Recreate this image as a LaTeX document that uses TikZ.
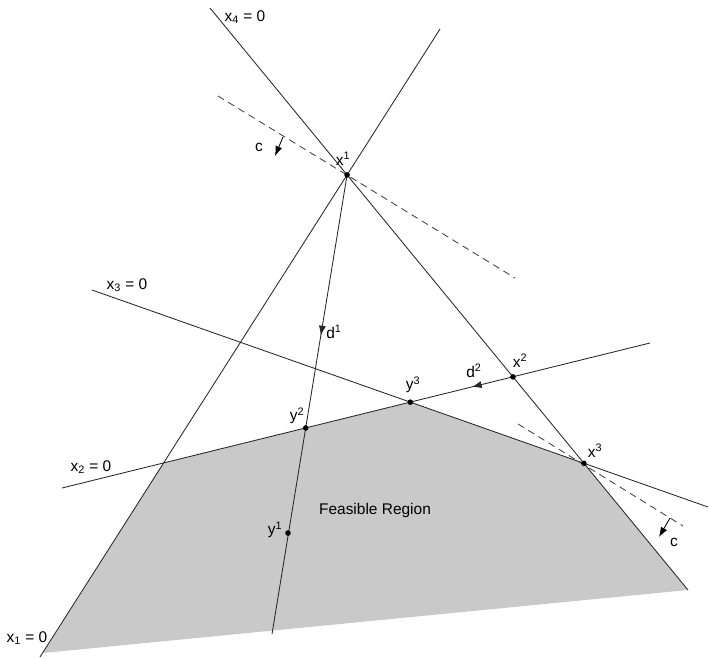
\documentclass[tikz,border=0pt]{standalone}
\usepackage{fontspec}
\setmainfont{Liberation Sans}
\usetikzlibrary{arrows.meta, decorations.markings}
\tikzset{
  cons/.style={line width=0.6pt, draw=black!85},
  level/.style={line width=0.6pt, draw=black!75, dash pattern=on 5pt off 3.5pt},
  pt/.style={circle, fill=black, inner sep=1.4pt},
  lbl/.style={font=\fontsize{11}{13}\selectfont, inner sep=1pt},
  region/.style={fill=gray!42, draw=none},
  arrow/.style={-{Latex[length=7pt, width=5pt]}, line width=0.6pt}
}
\begin{document}
\begin{tikzpicture}[x=0.025cm, y=-0.025cm]
\useasboundingbox (0,0) rectangle (710,658);

%% Constraint line ends
\coordinate (l1a) at (40,657);  \coordinate (l1b) at (440,29);
\coordinate (l2a) at (62,488);  \coordinate (l2b) at (650,343);
\coordinate (l3a) at (92,290);  \coordinate (l3b) at (708,507);
\coordinate (l4a) at (210,8);   \coordinate (l4b) at (688,590);
\coordinate (dend) at (272,634);
\coordinate (base) at (43,653);

%% Vertices
\coordinate (x1) at (intersection of l1a--l1b and l4a--l4b);
\coordinate (x3) at (intersection of l3a--l3b and l4a--l4b);
\coordinate (y3) at (intersection of l2a--l2b and l3a--l3b);
\coordinate (c12) at (intersection of l1a--l1b and l2a--l2b);
\coordinate (x2) at (intersection of l2a--l2b and l4a--l4b);
\coordinate (y2) at (intersection of l2a--l2b and x1--dend);

%% Feasible region
\fill[region] (c12) -- (y3) -- (x3) -- (l4b) -- (base) -- cycle;

%% Constraints
\draw[cons] (l1a) -- (l1b);
\draw[cons, postaction={decorate}, decoration={markings,
  mark=at position 0.697 with {\arrowreversed{Latex[length=7pt, width=5pt]}}}]
  (l2a) -- (l2b);
\draw[cons] (l3a) -- (l3b);
\draw[cons] (l4a) -- (l4b);

%% Direction d1
\draw[cons, postaction={decorate}, decoration={markings,
  mark=at position 0.35 with {\arrow{Latex[length=7pt, width=5pt]}}}]
  (x1) -- (dend);

%% Objective level lines
\coordinate (ua) at (218,96);  \coordinate (ub) at (515,278);
\coordinate (la) at (518,424); \coordinate (lb) at (683,526);
\draw[level] (ua) -- (ub);
\draw[level] (la) -- (lb);
\coordinate (cus) at (283,137); \coordinate (cue) at (275,156);
\coordinate (cls) at (670,518); \coordinate (cle) at (659,537);
\draw[arrow] (cus) -- (cue);
\draw[arrow] (cls) -- (cle);

%% Points
\node[pt] (px1) at (x1) {};
\node[pt] (px2) at (x2) {};
\node[pt] (px3) at (x3) {};
\node[pt] (py2) at (y2) {};
\node[pt] (py3) at (y3) {};
\node[pt] (py1) at (288,533) {};

%% Labels
\node[lbl] (t4) at (245,17) {x\textsubscript{4} = 0};
\node[lbl] (t3) at (127,285) {x\textsubscript{3} = 0};
\node[lbl] (t2) at (91,467) {x\textsubscript{2} = 0};
\node[lbl] (t1) at (27,638) {x\textsubscript{1} = 0};
\node[lbl] (tx1) at (343,159) {x\textsuperscript{1}};
\node[lbl] (tx2) at (520,361) {x\textsuperscript{2}};
\node[lbl] (tx3) at (595,451) {x\textsuperscript{3}};
\node[lbl] (ty1) at (275,530) {y\textsuperscript{1}};
\node[lbl] (ty2) at (297,416) {y\textsuperscript{2}};
\node[lbl] (ty3) at (413,385) {y\textsuperscript{3}};
\node[lbl] (td1) at (334,332) {d\textsuperscript{1}};
\node[lbl] (td2) at (474,371) {d\textsuperscript{2}};
\node[lbl] (tcu) at (259,147) {c};
\node[lbl] (tcl) at (674,542) {c};
\node[lbl] (feas) at (375,510) {Feasible Region};
\end{tikzpicture}
\end{document}
